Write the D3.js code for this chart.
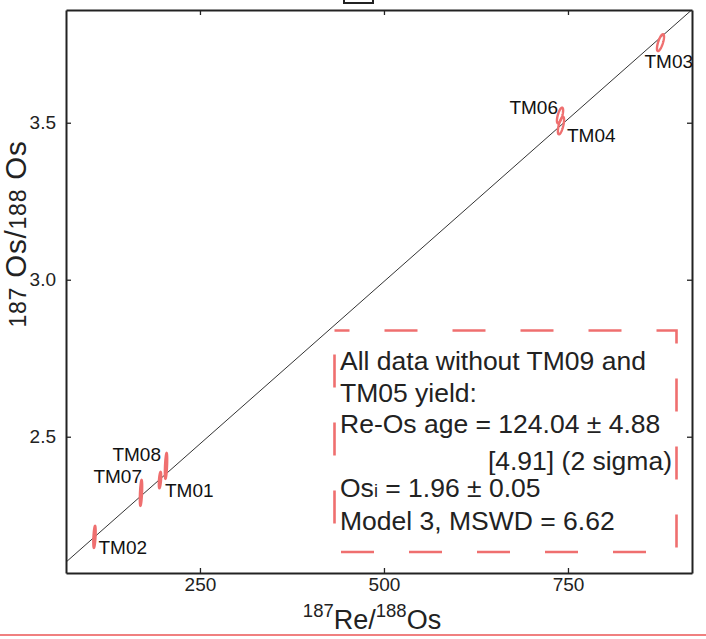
<!DOCTYPE html>
<html><head><meta charset="utf-8">
<script src="https://cdn.jsdelivr.net/npm/d3@7"></script>
<style>
html,body{margin:0;padding:0;background:#fff;}
svg{display:block;font-family:"Liberation Sans",Arial,Helvetica,sans-serif;}
</style></head>
<body>
<svg id="chart" width="706" height="639"></svg>
<script>
// ---- data ----
const samples = ["TM01","TM02","TM03","TM04","TM06","TM07","TM08"];
const reOs    = [195.7, 106.7, 875.7, 740.5, 739.2, 169.9, 203.9];   // 187Re/188Os
const osOs    = [2.362, 2.181, 3.755, 3.491, 3.523, 2.321, 2.407];   // 187Os/188Os
const errRe   = [1.6, 1.6, 4.8, 4.2, 4.2, 1.6, 1.6];                 // ellipse half-width (x)
const errOs   = [0.026, 0.035, 0.027, 0.028, 0.025, 0.041, 0.041];  // ellipse half-height (y)
const errRho  = [0.5, 0.5, 0.7, 0.65, 0.65, 0.5, 0.5];
const xTicks = [250, 500, 750];
const yTicks = [2.5, 3.0, 3.5];
const ageMa = 124.04, osInitial = 1.96, lambdaRe = 1.666e-11;
const boxLines = ["All data without TM09 and", "TM05 yield:", "Re-Os age = 124.04 ± 4.88", "[4.91] (2 sigma)", "Os|i| = 1.96 ± 0.05", "Model 3, MSWD = 6.62"];

// ---- layout ----
const M = {left:66, right:692, top:10, bottom:573};
const labelLayout = {
  TM01:{dx:5, dy:17, anchor:"start"},
  TM02:{dx:4, dy:17, anchor:"start"},
  TM03:{dx:-16, dy:25, anchor:"start"},
  TM04:{dx:6, dy:16, anchor:"start"},
  TM06:{dx:-2, dy:-2, anchor:"end"},
  TM07:{dx:1, dy:-10, anchor:"end"},
  TM08:{dx:-5, dy:-5, anchor:"end"}
};
const red = "#ef6f6f", ink = "#222";

const svg = d3.select("#chart");
const x = d3.scaleLinear().domain([68, 918.5]).range([M.left, M.right]);
const y = d3.scaleLinear().domain([2.066, 3.859]).range([M.bottom, M.top]);

// small clipped title box at top
svg.append("rect").attr("x",344).attr("y",-10).attr("width",29).attr("height",13)
  .attr("fill","#fff").attr("stroke",ink).attr("stroke-width",2);

// clip
svg.append("clipPath").attr("id","clip").append("rect")
  .attr("x",M.left).attr("y",M.top).attr("width",M.right-M.left).attr("height",M.bottom-M.top);

// regression line
const slope = Math.exp(lambdaRe*ageMa*1e6)-1;
const xd = x.domain();
svg.append("line").attr("clip-path","url(#clip)")
  .attr("x1",x(xd[0])).attr("y1",y(osInitial+slope*xd[0]))
  .attr("x2",x(xd[1])).attr("y2",y(osInitial+slope*xd[1]))
  .attr("stroke","#333").attr("stroke-width",1);

// axes
function styleAxis(g){
  g.select(".domain").attr("stroke",ink).attr("stroke-width",2);
  g.selectAll(".tick line").attr("stroke",ink).attr("stroke-width",1.3);
  g.selectAll("text").attr("fill",ink).attr("font-size",19).attr("font-family","'Liberation Sans',Arial,sans-serif");
}
svg.append("g").attr("transform",`translate(0,${M.bottom})`)
  .call(d3.axisBottom(x).tickValues(xTicks).tickSize(-5).tickSizeOuter(0).tickPadding(5).tickFormat(d3.format("d")))
  .call(styleAxis);
svg.append("g").attr("transform",`translate(0,${M.top})`)
  .call(d3.axisTop(x).tickValues(xTicks).tickSize(-5).tickSizeOuter(0).tickFormat(""))
  .call(styleAxis);
svg.append("g").attr("transform",`translate(${M.left},0)`)
  .call(d3.axisLeft(y).tickValues(yTicks).tickSize(-5).tickSizeOuter(0).tickPadding(10).tickFormat(d3.format(".1f")))
  .call(styleAxis);
svg.append("g").attr("transform",`translate(${M.right},0)`)
  .call(d3.axisRight(y).tickValues(yTicks).tickSize(-5).tickSizeOuter(0).tickFormat(""))
  .call(styleAxis);

// error ellipses
const ellipsePts = i => d3.range(0, 361, 6).map(a => {
  const t = a*Math.PI/180;
  const r = errRho[i];
  return [x(reOs[i] + errRe[i]*Math.cos(t)),
          y(osOs[i] + errOs[i]*(r*Math.cos(t) + Math.sqrt(1-r*r)*Math.sin(t)))];
});
const lineGen = d3.line().curve(d3.curveLinearClosed);
svg.append("g").selectAll("path").data(samples).join("path")
  .attr("d",(d,i)=>lineGen(ellipsePts(i)))
  .attr("fill","none").attr("stroke",red).attr("stroke-width",2.4);

// sample labels
svg.append("g").selectAll("text").data(samples).join("text")
  .attr("x",(d,i)=>x(reOs[i])+labelLayout[d].dx)
  .attr("y",(d,i)=>y(osOs[i])+labelLayout[d].dy)
  .attr("text-anchor",d=>labelLayout[d].anchor)
  .attr("font-size",19).attr("fill","#111").text(d=>d);

// dashed annotation box
svg.append("rect").attr("x",334.5).attr("y",330.5).attr("width",342).attr("height",221.5)
  .attr("fill","none").attr("stroke",red).attr("stroke-width",2.6)
  .attr("stroke-dasharray","33,35").attr("stroke-dashoffset",18);

const bt = svg.append("g").attr("font-size",26.5).attr("fill",ink);
const bY = [370, 401.5, 433, 469.5, 497, 530];
boxLines.forEach((s,i)=>{
  const t = bt.append("text").attr("y",bY[i]);
  if (i===3) { t.attr("x",672).attr("text-anchor","end").text(s); return; }
  t.attr("x",340);
  const parts = s.split("|");
  if (parts.length===3){
    t.append("tspan").text(parts[0]);
    t.append("tspan").attr("font-size",18).text(parts[1]);
    t.append("tspan").text(parts[2]);
  } else t.text(s);
});

// axis titles
const xt = svg.append("text").attr("x",372).attr("y",629).attr("text-anchor","middle").attr("fill",ink).attr("font-size",27);
xt.append("tspan").attr("font-size",18.5).attr("dy",-12).text("187");
xt.append("tspan").attr("dy",12).text("Re/");
xt.append("tspan").attr("font-size",18.5).attr("dy",-12).text("188");
xt.append("tspan").attr("dy",12).text("Os");

const yt = svg.append("text").attr("transform","translate(26,234) rotate(-90)")
  .attr("text-anchor","middle").attr("fill",ink).attr("font-size",29.5)
  .attr("letter-spacing",0.8);
yt.append("tspan").attr("font-size",23).text("187");
yt.append("tspan").text(" Os/");
yt.append("tspan").attr("font-size",23).text("188");
yt.append("tspan").text(" Os");

// bottom red rule
svg.append("line").attr("x1",0).attr("x2",706).attr("y1",635).attr("y2",635)
  .attr("stroke","#f08080").attr("stroke-width",2);
</script>
</body></html>
